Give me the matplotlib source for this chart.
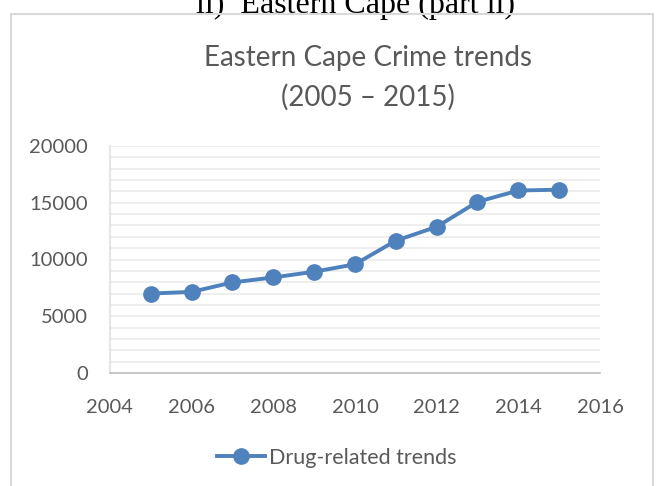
import numpy as np
import matplotlib.pyplot as plt
import matplotlib.ticker as ticker
from matplotlib.lines import Line2D
from matplotlib.patches import Rectangle

# data
years = [2005, 2006, 2007, 2008, 2009, 2010, 2011, 2012, 2013, 2014, 2015]
drug_cases = [7000, 7150, 7980, 8420, 8920, 9580, 11660, 12880, 15080, 16080, 16150]

x_ticks = [2004, 2006, 2008, 2010, 2012, 2014, 2016]
y_ticks = [0, 5000, 10000, 15000, 20000]

line_color = '#4F81BD'
text_color = '#595959'

fig = plt.figure(figsize=(6.62, 4.86), dpi=100)

# chart frame (word-doc style border)
fig.patches.append(Rectangle((11 / 662, -0.05), 642 / 662, 0.05 + (486 - 14) / 486,
                             transform=fig.transFigure, fill=False,
                             edgecolor='#D9D9D9', linewidth=1.5, zorder=5))

# heading from the document, cut off at the top
fig.text(356 / 662, 1 - 13 / 486, 'ii)  Eastern Cape (part ii)', ha='center', va='baseline',
         fontsize=23, family='Liberation Serif', color='black')

fig.text(368 / 662, 1 - 58 / 486, 'Eastern Cape Crime trends', ha='center', va='center',
         fontsize=20, family='Lato', color=text_color)
fig.text(368 / 662, 1 - 97 / 486, '(2005 \u2013 2015)', ha='center', va='center',
         fontsize=20, family='Lato', color=text_color)

ax = fig.add_axes([110 / 662, 1 - 373 / 486, (600 - 110) / 662, (373 - 146) / 486])
ax.plot(years, drug_cases, color=line_color, linewidth=2.8, marker='o', markersize=11,
        solid_capstyle='round', zorder=3)

ax.set_xlim(2004, 2016)
ax.set_ylim(0, 20000)
ax.set_xticks(x_ticks)
ax.set_yticks(y_ticks)
ax.yaxis.set_minor_locator(ticker.MultipleLocator(1000))
ax.grid(True, which='both', axis='y', color='#EBEBEB', linewidth=1.2)
ax.set_axisbelow(True)

for side in ['top', 'right']:
    ax.spines[side].set_visible(False)
ax.spines['left'].set_color('#E0E0E0')
ax.spines['left'].set_linewidth(1.2)
ax.spines['bottom'].set_color('#BFBFBF')
ax.spines['bottom'].set_linewidth(1.2)

ax.tick_params(axis='both', which='both', length=0, labelsize=14.5, labelcolor=text_color)
ax.tick_params(axis='y', pad=16)
ax.tick_params(axis='x', pad=19)
for lbl in ax.get_xticklabels() + ax.get_yticklabels():
    lbl.set_family('Lato')

handle = Line2D([], [], color=line_color, linewidth=2.8, marker='o', markersize=11)
leg = fig.legend([handle], ['Drug-related trends'], loc='center', bbox_to_anchor=(337 / 662, 1 - 458 / 486),
                 frameon=False, prop={'family': 'Lato', 'size': 15.5}, handlelength=2.2, handletextpad=0.2)
for t in leg.get_texts():
    t.set_color(text_color)

fig.savefig('out.png', dpi=100)
